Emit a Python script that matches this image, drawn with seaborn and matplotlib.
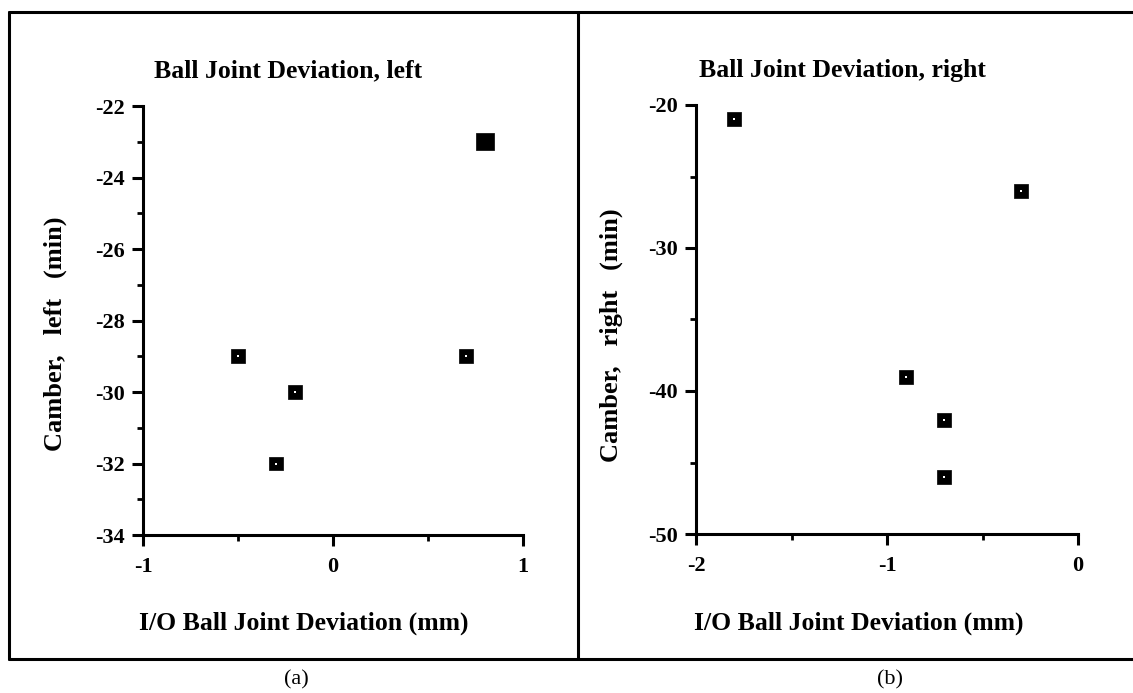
import matplotlib
matplotlib.use("Agg")
import matplotlib.pyplot as plt
from matplotlib.lines import Line2D
from matplotlib.ticker import MultipleLocator
import seaborn as sns
import pandas as pd

# ---- data ----
left_x = [-0.5, -0.2, -0.3, 0.7, 0.8]
left_y = [-29, -30, -32, -29, -23]
left_count = [1, 1, 1, 1, 2]          # 2 = overlapping observations

right_x = [-1.8, -0.3, -0.9, -0.7, -0.7]
right_y = [-21, -26, -39, -42, -46]
right_count = [1, 1, 1, 1, 1]

left_xticks = [-1, 0, 1]
left_yticks = [-34, -32, -30, -28, -26, -24, -22]
right_xticks = [-2, -1, 0]
right_yticks = [-50, -40, -30, -20]

title_left = "Ball Joint Deviation, left"
title_right = "Ball Joint Deviation, right"
xlabel = "I/O Ball Joint Deviation (mm)"
ylabel_left = "Camber,   left   (min)"
ylabel_right = "Camber,   right   (min)"

sns.set_style("white")
plt.rcParams['font.family'] = ['Liberation Serif', 'DejaVu Serif']
plt.rcParams['text.color'] = 'black'
plt.rcParams['axes.labelcolor'] = 'black'
plt.rcParams['xtick.color'] = 'black'
plt.rcParams['ytick.color'] = 'black'

W, H = 1133, 693
fig = plt.figure(figsize=(W / 100, H / 100), dpi=100)

def fx(px):
    return px / W

def fy(py):
    return 1 - py / H

def panel(rect, xs, ys, cnt, xlim, ylim, xticks, yticks, xminor, yminor):
    ax = fig.add_axes(rect)
    df = pd.DataFrame({"x": xs, "y": ys, "n": cnt})
    sns.scatterplot(data=df, x="x", y="y", size="n", sizes={1: 100, 2: 150},
                    marker="s", color="black", edgecolor="black", linewidth=0.5,
                    legend=False, ax=ax, clip_on=False, zorder=3)
    single = df[df["n"] == 1]
    sns.scatterplot(data=single, x="x", y="y", marker="s", s=4, color="white",
                    edgecolor="white", linewidth=0, legend=False, ax=ax,
                    clip_on=False, zorder=4)
    ax.set_xlim(*xlim)
    ax.set_ylim(*ylim)
    ax.set_xticks(xticks)
    ax.set_yticks(yticks)
    ax.xaxis.set_minor_locator(MultipleLocator(xminor))
    ax.yaxis.set_minor_locator(MultipleLocator(yminor))
    ax.set_xticklabels([str(t) for t in xticks])
    ax.set_yticklabels([str(t) for t in yticks])
    for s in ["top", "right"]:
        ax.spines[s].set_visible(False)
    for s in ["left", "bottom"]:
        ax.spines[s].set_linewidth(2.2)
        ax.spines[s].set_color("black")
    ax.tick_params(which="both", bottom=True, left=True, top=False, right=False)
    ax.tick_params(which="major", direction="out", length=8, width=2.2,
                   color="black", labelsize=16, pad=5, labelcolor="black")
    ax.tick_params(which="minor", direction="out", length=4.5, width=2.0,
                   color="black")
    ax.tick_params(axis="x", which="major", pad=8)
    for lab in ax.get_xticklabels() + ax.get_yticklabels():
        lab.set_fontweight("bold")
    ax.set_xlabel("")
    ax.set_ylabel("")
    ax.set_facecolor("white")
    return ax

axL = panel([fx(143), fy(535), fx(523) - fx(143), fy(106) - fy(535)],
            left_x, left_y, left_count, (-1, 1), (-34, -22),
            left_xticks, left_yticks, 0.5, 1)
axR = panel([fx(696), fy(534), fx(1078) - fx(696), fy(105) - fy(534)],
            right_x, right_y, right_count, (-2, 0), (-50, -20),
            right_xticks, right_yticks, 0.5, 5)

bold = dict(fontweight="bold", fontsize=18.5, color="black")
fig.text(fx(154), fy(71), title_left, ha="left", va="center", **bold)
fig.text(fx(699), fy(71), title_right, ha="left", va="center", **bold)
fig.text(fx(304), fy(623), xlabel, ha="center", va="center", **bold)
fig.text(fx(859), fy(623), xlabel, ha="center", va="center", **bold)
ybold = dict(fontweight="bold", fontsize=19, color="black")
fig.text(fx(55), fy(334), ylabel_left, ha="center", va="center", rotation=90, **ybold)
fig.text(fx(611), fy(335), ylabel_right, ha="center", va="center", rotation=90, **ybold)
fig.text(fx(296), fy(680), "(a)", ha="center", va="center", fontsize=16, color="black")
fig.text(fx(890), fy(680), "(b)", ha="center", va="center", fontsize=16, color="black")

# outer frame
lw = 2.2
fig.add_artist(Line2D([fx(9), fx(9)], [fy(12), fy(659)], color="black", lw=lw))
fig.add_artist(Line2D([fx(9), 1.0], [fy(12), fy(12)], color="black", lw=lw))
fig.add_artist(Line2D([fx(9), 1.0], [fy(659), fy(659)], color="black", lw=lw))
fig.add_artist(Line2D([fx(578), fx(578)], [fy(12), fy(659)], color="black", lw=lw))

fig.savefig("out.png", dpi=100, facecolor="white")
